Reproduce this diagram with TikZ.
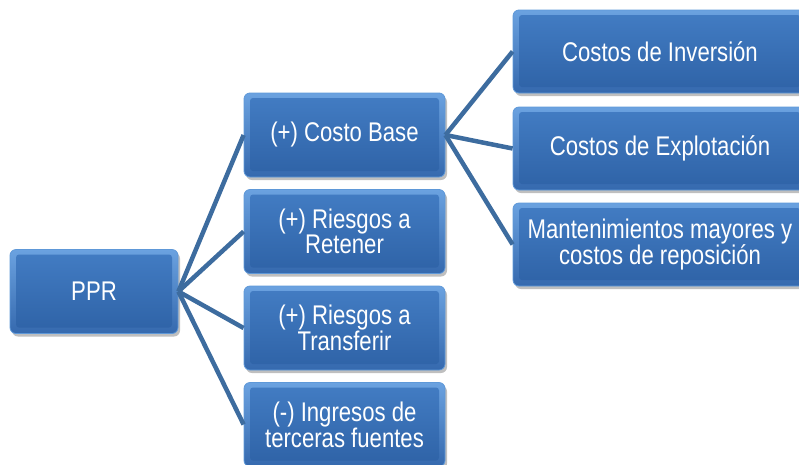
\documentclass[tikz,border=0pt]{standalone}
\usepackage{fontspec}
\setmainfont{Liberation Sans}[FakeStretch=0.82]
\usetikzlibrary{shadows}
\definecolor{boxtop}{HTML}{6BA2E0}
\definecolor{boxbot}{HTML}{3569AE}
\definecolor{intop}{HTML}{437DC4}
\definecolor{inbot}{HTML}{2E62A6}
\definecolor{boxedge}{HTML}{5E98D8}
\definecolor{linkc}{HTML}{3D6C9F}
\tikzset{
  box/.style={rectangle, rounded corners=6pt, top color=boxtop, bottom color=boxbot,
    draw=boxedge, line width=0.8pt, text=white, align=center, inner sep=0pt,
    font=\fontsize{27}{25}\selectfont,
    drop shadow={shadow xshift=2pt, shadow yshift=-3pt, opacity=0.25, fill=black},
    path picture={\shade[top color=intop, bottom color=inbot, rounded corners=3pt]
      ([shift={(6pt,-5pt)}]path picture bounding box.north west) rectangle
      ([shift={(-6pt,6pt)}]path picture bounding box.south east);}},
  link/.style={draw=linkc, line width=4.5pt}
}
\begin{document}
\begin{tikzpicture}[x=1pt,y=-1pt]
\useasboundingbox (0,0) rectangle (799,464);
\clip (0,0) rectangle (799,464);
\node[box, minimum width=168pt, minimum height=84pt] (ppr) at (94,291.5) {PPR};
\node[box, minimum width=201pt, minimum height=84pt] (cb) at (344.5,135) {(+) Costo Base};
\node[box, minimum width=201pt, minimum height=84pt] (rr) at (344.5,231.5) {(+) Riesgos a\\Retener};
\node[box, minimum width=201pt, minimum height=84pt] (rt) at (344.5,328) {(+) Riesgos a\\Transferir};
\node[box, minimum width=201pt, minimum height=84pt] (ig) at (344.5,424.5) {(-) Ingresos de\\terceras fuentes};
\node[box, minimum width=294pt, minimum height=83pt] (ci) at (660,51.5) {Costos de Inversión};
\node[box, minimum width=294pt, minimum height=83pt] (ce) at (660,148.5) {Costos de Explotación};
\node[box, minimum width=294pt, minimum height=83pt] (mm) at (660,244.5) {Mantenimientos mayores y\\costos de reposición};
\foreach \t in {cb,rr,rt,ig}{\draw[link] (ppr.east) -- (\t.west);}
\foreach \t in {ci,ce,mm}{\draw[link] (cb.east) -- (\t.west);}
\end{tikzpicture}
\end{document}
